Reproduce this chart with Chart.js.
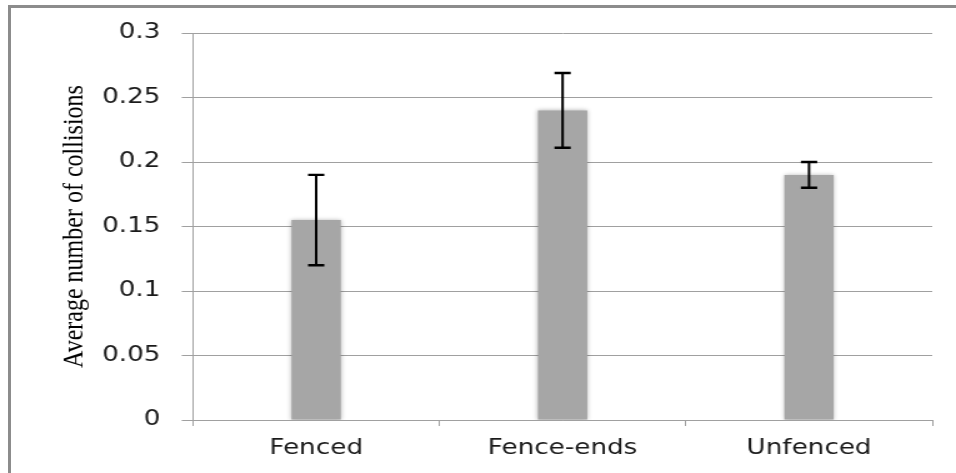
<!DOCTYPE html>
<html lang="en">
<head>
  <meta charset="UTF-8" />
  <title>Average number of collisions</title>
  <script src="https://cdn.jsdelivr.net/npm/chart.js"></script>
  <style>
    html, body {
      margin: 0;
      padding: 0;
      background: #fff;
      overflow: hidden;
    }
    #frame {
      position: absolute;
      left: 8px;
      top: 5px;
      width: 1000px;
      height: 520px;
      border: 3px solid #8c8c8c;
      box-sizing: border-box;
    }
    #chart {
      position: absolute;
      left: 0;
      top: 0;
    }
  </style>
</head>
<body>

<div id="frame"></div>
<!-- drawn at 765 wide and shown 956 wide: the reference is stretched sideways -->
<canvas id="chart" width="765" height="473" style="width:956px;height:473px"></canvas>

<script>
  const categories = ["Fenced", "Fence-ends", "Unfenced"];
  const meanCollisions = [0.155, 0.24, 0.19];
  const errorMargins = [0.035, 0.029, 0.01];
  const yTickLabels = ["0", "0.05", "0.1", "0.15", "0.2", "0.25", "0.3"];

  const gridColor = "#a0a0a0";

  // soft shadow round the bars, then the error bars on top
  const barShadow = {
    id: "barShadow",
    beforeDatasetsDraw(chart) {
      const ctx = chart.ctx;
      ctx.save();
      ctx.shadowColor = "rgba(0,0,0,0.28)";
      ctx.shadowBlur = 4;
    },
    afterDatasetsDraw(chart) {
      chart.ctx.restore();
    }
  };

  const errorBars = {
    id: "errorBars",
    afterDatasetsDraw(chart) {
      const ctx = chart.ctx;
      const y = chart.scales.y;
      const meta = chart.getDatasetMeta(0);
      ctx.save();
      ctx.strokeStyle = "#000";
      meta.data.forEach((bar, i) => {
        const hi = y.getPixelForValue(meanCollisions[i] + errorMargins[i]);
        const lo = y.getPixelForValue(meanCollisions[i] - errorMargins[i]);
        ctx.lineWidth = 2;
        ctx.beginPath();
        ctx.moveTo(bar.x, hi);
        ctx.lineTo(bar.x, lo);
        ctx.stroke();
        ctx.lineWidth = 2.4;
        ctx.beginPath();
        ctx.moveTo(bar.x - 6.5, hi);
        ctx.lineTo(bar.x + 6.5, hi);
        ctx.moveTo(bar.x - 6.5, lo);
        ctx.lineTo(bar.x + 6.5, lo);
        ctx.stroke();
      });
      ctx.restore();
    }
  };

  new Chart(document.getElementById("chart"), {
    type: "bar",
    data: {
      labels: categories,
      datasets: [{
        data: meanCollisions,
        backgroundColor: "#a6a6a6",
        borderWidth: 0,
        barPercentage: 0.2,
        categoryPercentage: 1
      }]
    },
    options: {
      responsive: false,
      animation: false,
      events: [],
      layout: {
        padding: { left: 0, right: 19, top: 33, bottom: 0 }
      },
      plugins: {
        legend: { display: false },
        tooltip: { enabled: false }
      },
      scales: {
        x: {
          grid: {
            offset: true,
            drawOnChartArea: false,
            drawTicks: true,
            tickLength: 6,
            color: gridColor
          },
          border: { color: gridColor },
          ticks: {
            padding: 10,
            color: "#1a1a1a",
            font: { family: "DejaVu Sans", size: 21 }
          },
          afterFit(scale) { scale.height = 53; }
        },
        y: {
          min: 0,
          max: 0.3,
          ticks: {
            stepSize: 0.05,
            padding: 17,
            color: "#1a1a1a",
            font: { family: "DejaVu Sans", size: 21 },
            callback: (v, i) => yTickLabels[i]
          },
          grid: {
            tickLength: 9,
            color: gridColor
          },
          border: { color: gridColor },
          title: {
            display: true,
            text: "Average number of collisions",
            color: "#000",
            padding: { top: 45, bottom: 0 },
            font: { family: "Liberation Serif", size: 24 }
          },
          afterFit(scale) { scale.width = 154.4; }
        }
      }
    },
    plugins: [barShadow, errorBars]
  });
</script>

</body>
</html>
